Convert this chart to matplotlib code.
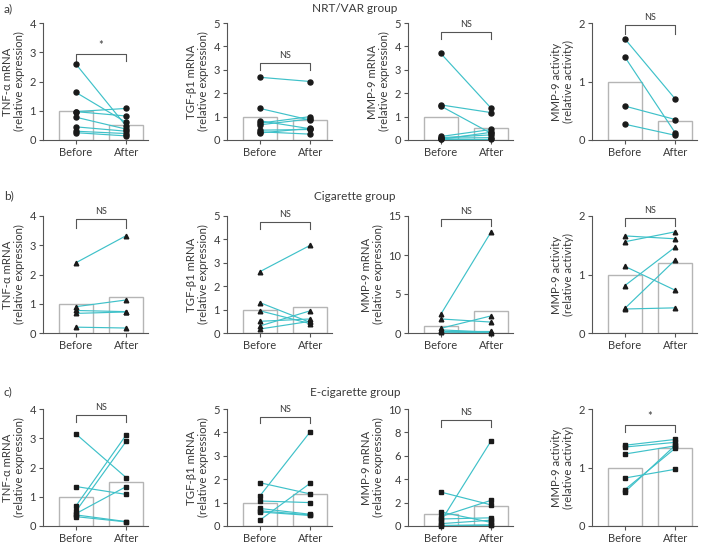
import matplotlib
matplotlib.use('Agg')
import matplotlib.pyplot as plt

plt.rcParams['font.family'] = ['Lato', 'DejaVu Sans']

grupos = ['NRT/VAR group', 'Cigarette group', 'E-cigarette group']
rotulos = ['a)', 'b)', 'c)']
momentos = ['Before', 'After']
ylabels = ['TNF-\u03b1 mRNA\n(relative expression)',
           'TGF-\u03b21 mRNA\n(relative expression)',
           'MMP-9 mRNA\n(relative expression)',
           'MMP-9 activity\n(relative activity)']

# NRT/VAR group
nrt_tnf_before = [2.6, 1.63, 0.97, 0.97, 0.78, 0.45, 0.3, 0.25]
nrt_tnf_after = [0.47, 0.6, 1.08, 0.82, 0.37, 0.3, 0.22, 0.14]
nrt_tgf_before = [2.68, 1.35, 0.82, 0.72, 0.65, 0.42, 0.35, 0.3]
nrt_tgf_after = [2.5, 0.85, 0.48, 1.0, 0.9, 0.45, 0.25, 0.5]
nrt_mmp_before = [3.7, 1.5, 1.45, 0.15, 0.1, 0.08, 0.05, 0.03]
nrt_mmp_after = [1.35, 1.17, 0.28, 0.45, 0.22, 0.1, 0.05, 0.33]
nrt_act_before = [1.73, 1.42, 0.58, 0.27]
nrt_act_after = [0.7, 0.12, 0.35, 0.08]

# Cigarette group
cig_tnf_before = [2.4, 0.9, 0.77, 0.67, 0.2]
cig_tnf_after = [3.33, 1.13, 0.73, 0.72, 0.17]
cig_tgf_before = [2.62, 1.3, 0.95, 0.5, 0.3, 0.17]
cig_tgf_after = [3.75, 0.45, 0.4, 0.6, 0.95, 0.5]
cig_mmp_before = [2.4, 1.8, 0.6, 0.4, 0.2, 0.1]
cig_mmp_after = [13.0, 1.4, 2.2, 0.1, 0.2, 0.05]
cig_act_before = [1.66, 1.56, 1.14, 0.81, 0.42, 0.41]
cig_act_after = [1.61, 1.73, 0.73, 1.47, 1.25, 0.43]

# E-cigarette group
ecig_tnf_before = [3.15, 1.35, 0.68, 0.5, 0.42, 0.38, 0.32]
ecig_tnf_after = [1.65, 1.08, 3.12, 2.9, 1.35, 0.15, 0.14]
ecig_tgf_before = [1.85, 1.28, 1.07, 0.75, 0.65, 0.6, 0.25]
ecig_tgf_after = [1.37, 4.03, 1.0, 0.5, 0.47, 0.45, 1.83]
ecig_mmp_before = [2.9, 1.2, 0.8, 0.6, 0.4, 0.2, 0.05, 0.02]
ecig_mmp_after = [1.8, 0.3, 2.2, 0.7, 7.3, 0.5, 0.1, 0.05]
ecig_act_before = [1.38, 1.35, 1.23, 0.82, 0.62, 0.58]
ecig_act_after = [1.48, 1.43, 1.37, 0.97, 1.33, 1.38]

# bar heights (means, relative to before)
barras = [[(1.0, 0.52), (1.0, 0.84), (1.0, 0.53), (1.0, 0.32)],
          [(0.98, 1.22), (0.97, 1.1), (0.95, 2.8), (1.0, 1.2)],
          [(0.98, 1.5), (1.0, 1.38), (1.0, 1.72), (1.0, 1.33)]]

dados = [[(nrt_tnf_before, nrt_tnf_after), (nrt_tgf_before, nrt_tgf_after),
          (nrt_mmp_before, nrt_mmp_after), (nrt_act_before, nrt_act_after)],
         [(cig_tnf_before, cig_tnf_after), (cig_tgf_before, cig_tgf_after),
          (cig_mmp_before, cig_mmp_after), (cig_act_before, cig_act_after)],
         [(ecig_tnf_before, ecig_tnf_after), (ecig_tgf_before, ecig_tgf_after),
          (ecig_mmp_before, ecig_mmp_after), (ecig_act_before, ecig_act_after)]]

ymax = [[4, 5, 5, 2], [4, 5, 15, 2], [4, 5, 10, 2]]
yticks = [[[0, 1, 2, 3, 4], [0, 1, 2, 3, 4, 5], [0, 1, 2, 3, 4, 5], [0, 1, 2]],
          [[0, 1, 2, 3, 4], [0, 1, 2, 3, 4, 5], [0, 5, 10, 15], [0, 1, 2]],
          [[0, 1, 2, 3, 4], [0, 1, 2, 3, 4, 5], [0, 2, 4, 6, 8, 10], [0, 1, 2]]]
# significance bracket (top, drop) and text
sig = [[(2.95, 2.7, '*'), (3.3, 3.0, 'NS'), (4.6, 4.3, 'NS'), (1.97, 1.82, 'NS')],
       [(3.9, 3.6, 'NS'), (4.75, 4.45, 'NS'), (14.6, 13.7, 'NS'), (1.97, 1.83, 'NS')],
       [(3.8, 3.55, 'NS'), (4.65, 4.4, 'NS'), (9.1, 8.5, 'NS'), (1.72, 1.6, '*')]]
marcadores = ['o', '^', 's']
tam_marc = [3.6, 3.3, 3.4]

cor_texto = '#3a3a3a'
cor_linha = '#3fc1c9'
cor_eixo = '#555555'

W, H = 710, 545
fig = plt.figure(figsize=(W / 100, H / 100), dpi=100)

lefts = [43, 227, 408, 592]
bottoms = [140, 333, 526]
alt = 117
larg = 105

for r in range(3):
    for c in range(4):
        ax = fig.add_axes([lefts[c] / W, 1 - bottoms[r] / H, larg / W, alt / H])
        antes, depois = dados[r][c]
        b0, b1 = barras[r][c]
        ax.bar([0, 1], [b0, b1], width=0.67, color='white', edgecolor='#b5b5b5',
               linewidth=1.0, zorder=1)
        for a, d in zip(antes, depois):
            ax.plot([0, 1], [a, d], color=cor_linha, lw=0.85, zorder=2, clip_on=False)
        ax.plot([0] * len(antes), antes, ls='none', marker=marcadores[r],
                ms=tam_marc[r], color='#1a1a1a', zorder=3, clip_on=False)
        ax.plot([1] * len(depois), depois, ls='none', marker=marcadores[r],
                ms=tam_marc[r], color='#1a1a1a', zorder=3, clip_on=False)

        topo, queda, txt = sig[r][c]
        ax.plot([0, 0, 1, 1], [queda, topo, topo, queda], color=cor_eixo, lw=0.8,
                clip_on=False, zorder=2)
        ax.text(0.5, topo + ymax[r][c] * 0.025, txt, ha='center', va='bottom',
                fontsize=6.5 if txt == 'NS' else 8, color=cor_texto)

        ax.set_xlim(-0.65, 1.43)
        ax.set_ylim(0, ymax[r][c])
        ax.set_yticks(yticks[r][c])
        ax.set_xticks([0, 1])
        ax.set_xticklabels(momentos)
        ax.spines['top'].set_visible(False)
        ax.spines['right'].set_visible(False)
        for s in ['left', 'bottom']:
            ax.spines[s].set_color(cor_eixo)
            ax.spines[s].set_linewidth(0.8)
        ax.tick_params(axis='both', colors=cor_eixo, labelcolor=cor_texto,
                       labelsize=8, length=3, width=0.8, pad=2)
        ax.set_ylabel(ylabels[c], fontsize=8.2, color=cor_texto, labelpad=3,
                      linespacing=1.1)

tit_y = [9, 196, 392]
for r in range(3):
    fig.text(0.5, 1 - tit_y[r] / H, grupos[r], ha='center', va='center',
             fontsize=8.5, color=cor_texto)
    fig.text(4 / W, 1 - tit_y[r] / H, rotulos[r], ha='left', va='center',
             fontsize=8.5, color=cor_texto)

plt.savefig('out.png', dpi=100)
